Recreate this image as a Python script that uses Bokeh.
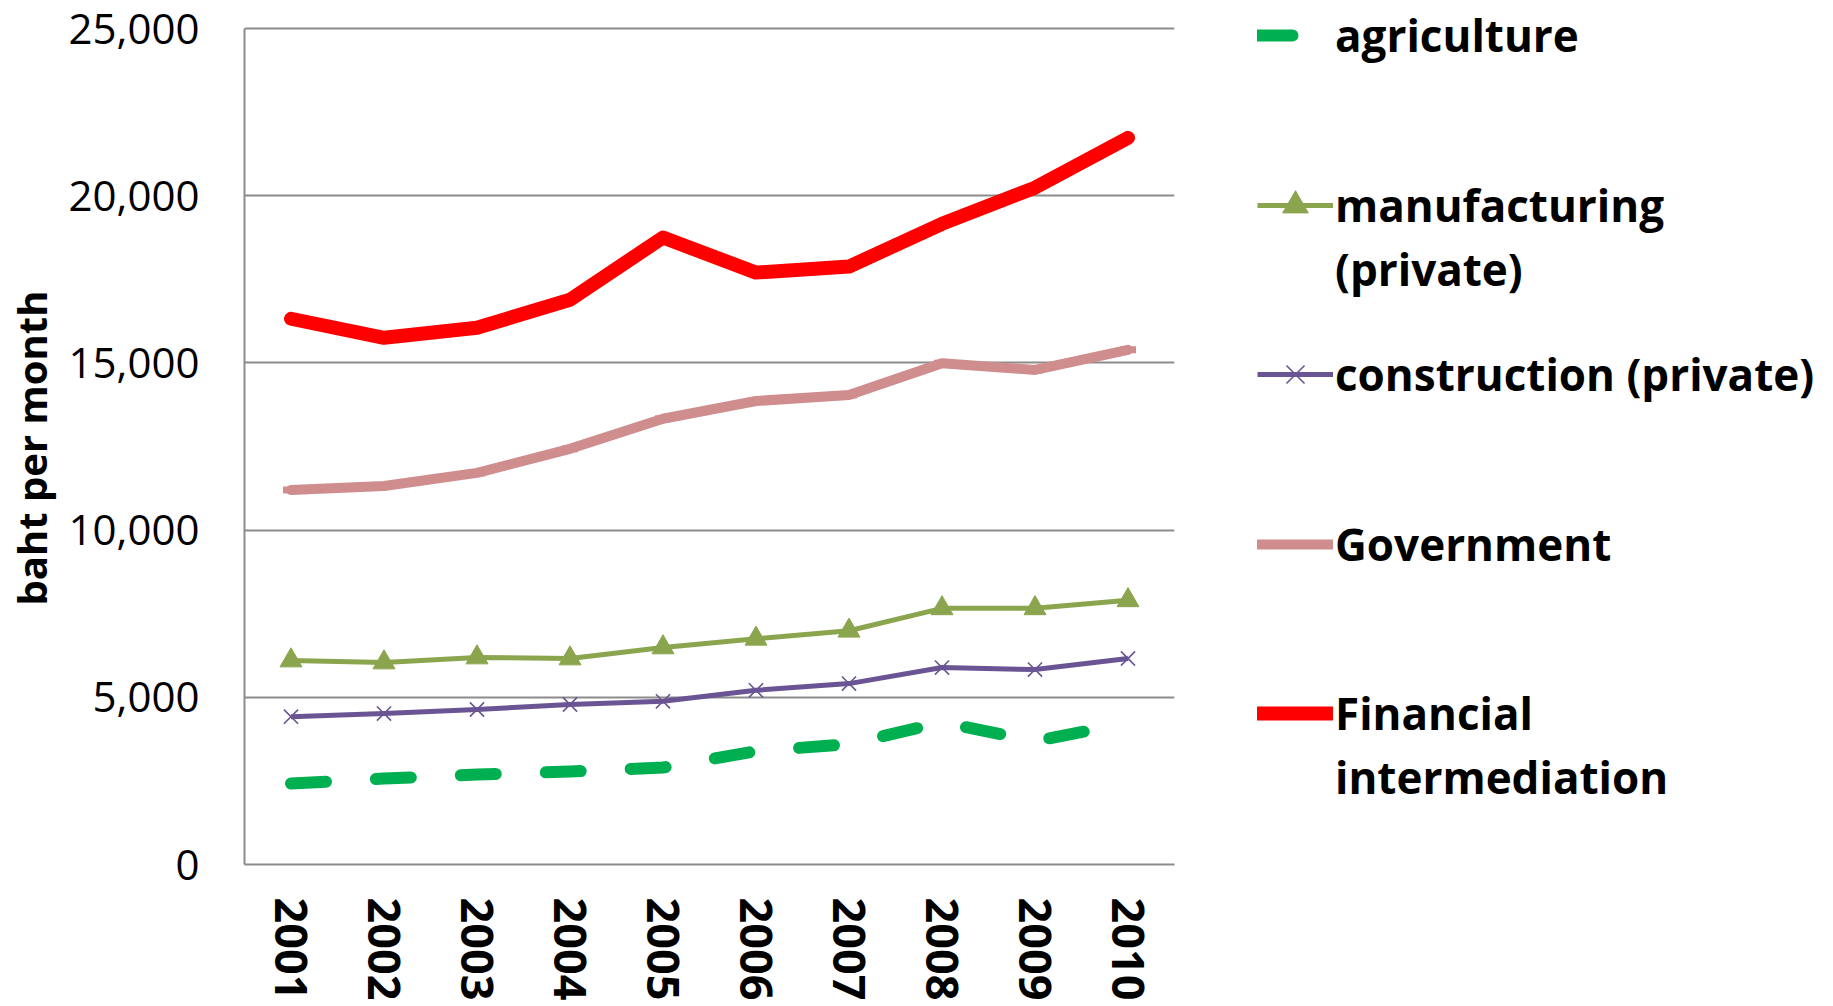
import math
from bokeh.plotting import figure
from bokeh.layouts import row
from bokeh.models import (Range1d, FactorRange, NumeralTickFormatter, Legend, LegendItem,
                          FixedTicker)
from bokeh.embed import file_html
from bokeh.resources import INLINE

years = ["2001", "2002", "2003", "2004", "2005", "2006", "2007", "2008", "2009", "2010"]
agriculture = [2420, 2570, 2690, 2780, 2900, 3390, 3600, 4250, 3690, 4230]
manufacturing = [6100, 6040, 6190, 6160, 6490, 6750, 6990, 7660, 7660, 7900]
construction = [4420, 4515, 4635, 4785, 4880, 5210, 5410, 5890, 5830, 6160]
government = [11200, 11320, 11710, 12430, 13330, 13860, 14040, 14990, 14790, 15390]
financial = [16320, 15750, 16050, 16890, 18750, 17700, 17880, 19160, 20240, 21730]
y_ticks = [0, 5000, 10000, 15000, 20000, 25000]
y_title = "baht per month"
legend_lines = [["agriculture"], ["manufacturing", "(private)"], ["construction (private)"],
                ["Government"], ["Financial", "intermediation"]]

FONT = "Open Sans"
GRID = "#8c8c8c"
C_AGR, C_MAN, C_CON, C_GOV, C_FIN = "#00b050", "#8ba54e", "#6b5493", "#cf8d8d", "#ff0000"

styles = {
    "agr": dict(line_color=C_AGR, line_width=12, line_dash="35 50", line_cap="round",
                line_join="round"),
    "man": dict(line_color=C_MAN, line_width=5, line_join="round"),
    "con": dict(line_color=C_CON, line_width=5, line_join="round"),
    "gov": dict(line_color=C_GOV, line_width=10, line_cap="round", line_join="round"),
    "fin": dict(line_color=C_FIN, line_width=14, line_cap="round", line_join="round"),
}
man_marker = dict(marker="triangle", size=22, fill_color=C_MAN, line_color=C_MAN)
con_marker = dict(marker="x", size=20, line_color=C_CON, line_width=1.6)
gov_marker = dict(marker="dash", size=16, line_color=C_GOV, line_width=7)

H = 1006
FRAME_TOP_PAGE, FRAME_BOTTOM_PAGE = 28, 864
Y_MAX = 25000
# frame spans page y 0..864 so that the legend panel beside it is not clipped;
# the value range is stretched so that 25,000 still sits at y = 28
y_end = Y_MAX * FRAME_BOTTOM_PAGE / (FRAME_BOTTOM_PAGE - FRAME_TOP_PAGE)

# ---------------- main chart ----------------
p = figure(width=1190, height=H, x_range=FactorRange(*years, range_padding=0),
           y_range=Range1d(0, y_end), output_backend="svg", toolbar_location=None,
           min_border_left=244, min_border_top=0, min_border_right=16,
           min_border_bottom=H - FRAME_BOTTOM_PAGE)
p.outline_line_color = None
p.background_fill_color = "white"
p.border_fill_color = "white"

p.xgrid.grid_line_color = None
p.ygrid.grid_line_color = GRID
p.ygrid.grid_line_width = 2

p.yaxis.ticker = FixedTicker(ticks=y_ticks)
p.yaxis.bounds = (0, Y_MAX)
p.yaxis.formatter = NumeralTickFormatter(format="0,0")
p.yaxis.major_label_text_font = FONT
p.yaxis.major_label_text_font_size = "42px"
p.yaxis.major_label_text_color = "black"
p.yaxis.major_label_standoff = 45
# trailing no-break spaces centre the visible title on the 0..25,000 span
p.yaxis.axis_label = y_title + "\u00a0\u00a0\u00a0"
p.yaxis.axis_label_text_font = FONT
p.yaxis.axis_label_text_font_style = "bold"
p.yaxis.axis_label_text_font_size = "40px"
p.yaxis.axis_label_text_color = "black"
p.yaxis.axis_label_standoff = 7

p.xaxis.major_label_text_font = FONT
p.xaxis.major_label_text_font_style = "bold"
p.xaxis.major_label_text_font_size = "45px"
p.xaxis.major_label_text_color = "black"
p.xaxis.major_label_orientation = -math.pi / 2
p.xaxis.major_label_standoff = 33

for ax in (p.xaxis, p.yaxis):
    ax.axis_line_color = GRID
    ax.axis_line_width = 2
    ax.major_tick_out = 0
    ax.major_tick_in = 0
    ax.minor_tick_out = 0
    ax.minor_tick_in = 0

p.line(years, agriculture, **styles["agr"])
p.line(years, manufacturing, **styles["man"])
p.scatter(years, manufacturing, **man_marker)
p.line(years, construction, **styles["con"])
p.scatter(years, construction, **con_marker)
p.line(years, government, **styles["gov"])
p.scatter(years, government, **gov_marker)
p.line(years, financial, **styles["fin"])

# ---------------- legend panel ----------------
LW = 640
q = figure(width=LW, height=H, x_range=Range1d(0, LW), y_range=Range1d(0, H),
           output_backend="svg", toolbar_location=None,
           x_axis_location=None, y_axis_location=None,
           min_border_left=0, min_border_right=0, min_border_top=0, min_border_bottom=0)
q.outline_line_color = None
q.grid.grid_line_color = None
q.background_fill_color = "white"
q.border_fill_color = "white"

# legend-only renderers, placed outside the visible range of this panel
off_x, off_y = [-50, -40], [-50, -50]
lg_agr = [q.line(off_x, off_y, **styles["agr"])]
lg_man = [q.line(off_x, off_y, **styles["man"]), q.scatter(off_x, off_y, **man_marker)]
lg_con = [q.line(off_x, off_y, **styles["con"]), q.scatter(off_x, off_y, **con_marker)]
lg_gov = [q.line(off_x, off_y, **styles["gov"])]
lg_fin = [q.line(off_x, off_y, **styles["fin"])]
blank = [q.line(off_x, off_y, line_alpha=0)]
glyph_sets = [lg_agr, lg_man, lg_con, lg_gov, lg_fin]

ROW = 64
first_line_centers = [35, 205, 374, 544, 713]   # page px
X0 = 1257 - 1190
for lines, rends, yc in zip(legend_lines, glyph_sets, first_line_centers):
    its = [LegendItem(label=lines[0], renderers=rends)]
    for extra in lines[1:]:
        its.append(LegendItem(label=extra, renderers=blank))
    bottom = yc - ROW / 2 + ROW * len(lines)
    lg = Legend(items=its, location=(X0, FRAME_BOTTOM_PAGE - bottom), orientation="vertical",
                label_text_font=FONT, label_text_font_style="bold",
                label_text_font_size="44px", label_text_color="black",
                glyph_width=76, glyph_height=ROW, label_height=ROW, label_standoff=2,
                spacing=0, padding=0, margin=0,
                border_line_color=None, background_fill_alpha=0)
    q.add_layout(lg)

open("out.html", "w").write(file_html(row(p, q), INLINE))
